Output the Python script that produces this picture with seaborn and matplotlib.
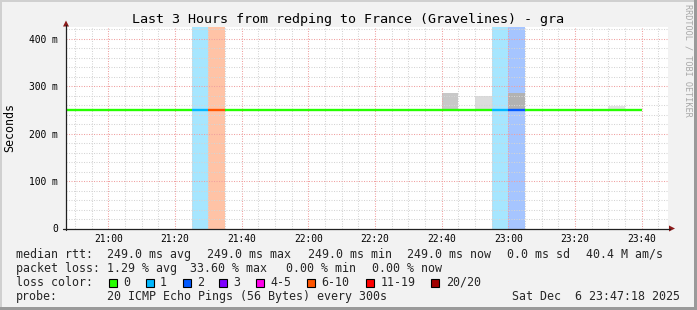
import numpy as np
import pandas as pd
import matplotlib
matplotlib.use("Agg")
import matplotlib.pyplot as plt
import matplotlib.dates as mdates
from matplotlib.patches import Rectangle, Polygon
from matplotlib.lines import Line2D
import seaborn as sns

# ---------------- data ----------------
DAY = "2025-12-06"
start_time = "20:47:18"
end_time = "23:47:54"
title = "Last 3 Hours from redping to France (Gravelines) - gra"
y_label = "Seconds"

# 5-minute bins (bin end times) and median rtt in seconds
bin_ends = ["20:50", "20:55", "21:00", "21:05", "21:10", "21:15", "21:20", "21:25",
            "21:30", "21:35", "21:40", "21:45", "21:50", "21:55", "22:00", "22:05",
            "22:10", "22:15", "22:20", "22:25", "22:30", "22:35", "22:40", "22:45",
            "22:50", "22:55", "23:00", "23:05", "23:10", "23:15", "23:20", "23:25",
            "23:30", "23:35", "23:40"]
median_rtt = [0.249, 0.249, 0.249, 0.249, 0.249, 0.249, 0.249, 0.249,
              0.249, 0.249, 0.249, 0.249, 0.249, 0.249, 0.249, 0.249,
              0.249, 0.249, 0.249, 0.249, 0.249, 0.249, 0.249, 0.249,
              0.249, 0.249, 0.249, 0.249, 0.249, 0.249, 0.249, 0.249,
              0.249, 0.249, 0.249]
# lost pings (of 20) per bin
lost_pings = [0, 0, 0, 0, 0, 0, 0, 0,
              1, 7, 0, 0, 0, 0, 0, 0,
              0, 0, 0, 0, 0, 0, 0, 0,
              0, 0, 1, 2, 0, 0, 0, 0,
              0, 0, 0]
# smoke (max rtt) where visible
smoke_bins = ["22:45", "22:55", "23:05", "23:35"]
smoke_max = [0.286, 0.278, 0.286, 0.259]

loss_labels = ["0", "1", "2", "3", "4-5", "6-10", "11-19", "20/20"]
loss_lower = [0, 1, 2, 3, 4, 6, 11, 20]

y_tick_values = [0.0, 0.1, 0.2, 0.3, 0.4]
y_tick_labels = ["0", "100 m", "200 m", "300 m", "400 m"]
x_tick_labels = ["21:00", "21:20", "21:40", "22:00", "22:20", "22:40",
                 "23:00", "23:20", "23:40"]

stat_rows = [
    ["median rtt:", "249.0 ms avg", "249.0 ms max", "249.0 ms min",
     "249.0 ms now", "0.0 ms sd", "40.4 M am/s"],
    ["packet loss:", "1.29 % avg", "33.60 % max", "0.00 % min", "0.00 % now"],
]
loss_row_label = "loss color:"
probe_label = "probe:"
probe_text = "20 ICMP Echo Pings (56 Bytes) every 300s"
stamp_text = "Sat Dec  6 23:47:18 2025"
credit_text = "RRDTOOL / TOBI OETIKER"

# ---------------- styles ----------------
W, H = 697, 310
loss_colors = ["#26ff00", "#00b8ff", "#0059ff", "#7e00ff", "#ff00ea",
               "#ff5500", "#ff0000", "#a10000"]
smoke_shade = ["#c8c8c8", "#dcdcdc", "#b2b2b2", "#e2e2e2"]
band_alpha = 0.35
bg = "#f2f2f2"
mono = "DejaVu Sans Mono"

sns.set_theme(style="white")
plt.rcParams["font.family"] = [mono, "DejaVu Sans"]


def t(hm):
    fmt = "%Y-%m-%d %H:%M:%S" if hm.count(":") == 2 else "%Y-%m-%d %H:%M"
    return mdates.date2num(pd.to_datetime(f"{DAY} {hm}", format=fmt))


def px(x, y):
    return (x / W, 1 - y / H)


def loss_cat(n):
    idx = 0
    for i, lo in enumerate(loss_lower):
        if n >= lo:
            idx = i
    return idx


step = 5 / 1440.0
ends = np.array([t(b) for b in bin_ends])
starts = ends - step
cats = [loss_cat(n) for n in lost_pings]

fig = plt.figure(figsize=(W / 100, H / 100), dpi=100, facecolor=bg)
ax = fig.add_axes([66 / W, (H - 228.5) / H, 602 / W, (228.5 - 26.5) / H])
ax.set_facecolor("white")

# loss bands
for s, c, n in zip(starts, cats, lost_pings):
    if n > 0:
        ax.bar(s, 1.0, width=step, align="edge", bottom=0,
               color=loss_colors[c], alpha=band_alpha, linewidth=0, zorder=1)

# smoke
smoke_ends = [t(b) for b in smoke_bins]
for e, top, shade in zip(smoke_ends, smoke_max, smoke_shade):
    i = int(np.argmin(np.abs(ends - e)))
    ax.bar(e - step, top - median_rtt[i], width=step, align="edge",
           bottom=median_rtt[i], color=shade, linewidth=0, zorder=1.2)

# median line (segments coloured by loss)
rows = []
for i, (s, e, m, c) in enumerate(zip(starts, ends, median_rtt, cats)):
    rows.append({"x": s, "rtt": m, "seg": i, "cat": loss_labels[c]})
    rows.append({"x": e, "rtt": m, "seg": i, "cat": loss_labels[c]})
long_df = pd.DataFrame(rows)
pal = {lab: col for lab, col in zip(loss_labels, loss_colors)}
sns.lineplot(data=long_df, x="x", y="rtt", hue="cat", units="seg",
             estimator=None, palette=pal, linewidth=1.7, legend=False,
             ax=ax, zorder=3, solid_capstyle="butt")

# axes limits and ticks
ax.set_xlim(t(start_time), t(end_time))
ax.set_ylim(0, 0.4254)
xt = [t(l) for l in x_tick_labels]
ax.set_xticks(xt)
ax.set_xticklabels(x_tick_labels)
ax.set_yticks(y_tick_values)
ax.set_yticklabels(y_tick_labels)
ax.xaxis.set_minor_locator(mdates.MinuteLocator(byminute=range(0, 60, 5)))
ax.yaxis.set_minor_locator(matplotlib.ticker.MultipleLocator(0.02))
ax.set_xlabel("")
ax.set_ylabel("")

ax.set_axisbelow("line")
ax.grid(which="minor", color="#d4d4d4", linestyle=(0, (1, 1.4)), linewidth=0.75)
ax.grid(which="major", color="#f0a0a0", linestyle=(0, (1, 1.4)), linewidth=0.75)

ax.tick_params(axis="both", which="major", labelsize=6.9, colors="#000000",
               length=2.5, width=0.75, direction="out")
ax.tick_params(axis="y", which="major", pad=3.5)
ax.tick_params(axis="x", which="major", pad=1.8)
ax.tick_params(axis="both", which="minor", length=0)
for sp in ax.spines.values():
    sp.set_visible(False)

# axis lines with arrows
axis_col = "#202020"
arrow_col = "#8b1a1a"
fig.add_artist(Line2D([66 / W, 66 / W], [px(0, 230)[1], px(0, 25)[1]],
                      color=axis_col, lw=0.9))
fig.add_artist(Line2D([63 / W, 670 / W], [px(0, 228.5)[1]] * 2,
                      color=axis_col, lw=0.9))
fig.add_artist(Polygon([px(63, 26.5), px(69, 26.5), px(66, 20.5)],
                       closed=True, color=arrow_col, lw=0))
fig.add_artist(Polygon([px(669, 225.5), px(669, 231.5), px(675, 228.5)],
                       closed=True, color=arrow_col, lw=0))

# title / labels
fig.text(*px(348.5, 19), title, ha="center", va="center", fontsize=9.6,
         color="black")
fig.text(*px(10, 127.5), y_label, ha="center", va="center", fontsize=8.4,
         rotation=90, color="black")
fig.text(*px(688, 60), credit_text, ha="center", va="center", fontsize=6.1,
         rotation=270, color="#a8a8a8")

# legend / stats
row1_x = [16, 107.3, 207.3, 308.3, 407.3, 507.3, 586]
row2_x = [16, 107.3, 190.5, 286, 372]
for xs, row, yy in [(row1_x, stat_rows[0], 254.3), (row2_x, stat_rows[1], 268.3)]:
    for x, s in zip(xs, row):
        fig.text(*px(x, yy), s, ha="left", va="center", fontsize=8.4)

fig.text(*px(16, 282.3), loss_row_label, ha="left", va="center", fontsize=8.4)
box_x = [108.7, 145.7, 182.7, 219.3, 256.3, 307, 365.7, 430.7]
lab_x = [123, 160, 196.7, 233.3, 270.7, 321.7, 380.7, 445.7]
for bx, lx, lab, col in zip(box_x, lab_x, loss_labels, loss_colors):
    x0, y0 = px(bx, 287)
    fig.add_artist(Rectangle((x0, y0), 8 / W, 8 / H, facecolor=col,
                             edgecolor="black", lw=0.8,
                             transform=fig.transFigure))
    fig.text(*px(lx, 282.3), lab, ha="left", va="center", fontsize=8.4)

fig.text(*px(16, 296.3), probe_label, ha="left", va="center", fontsize=8.4)
fig.text(*px(107.3, 296.3), probe_text, ha="left", va="center", fontsize=8.4)
fig.text(*px(680, 296.3), stamp_text, ha="right", va="center", fontsize=8.4)

# frame
fig.add_artist(Rectangle(px(0, 310), 2 / W, 1, color="#d0d0d0",
                         transform=fig.transFigure, lw=0))
fig.add_artist(Rectangle(px(0, 2), 1, 2 / H, color="#d0d0d0",
                         transform=fig.transFigure, lw=0))
fig.add_artist(Rectangle(px(694, 310), 3 / W, 1, color="#9a9a9a",
                         transform=fig.transFigure, lw=0))
fig.add_artist(Rectangle(px(0, 310), 1, 3 / H, color="#9a9a9a",
                         transform=fig.transFigure, lw=0))

fig.savefig("out.png", dpi=100, facecolor=bg)
